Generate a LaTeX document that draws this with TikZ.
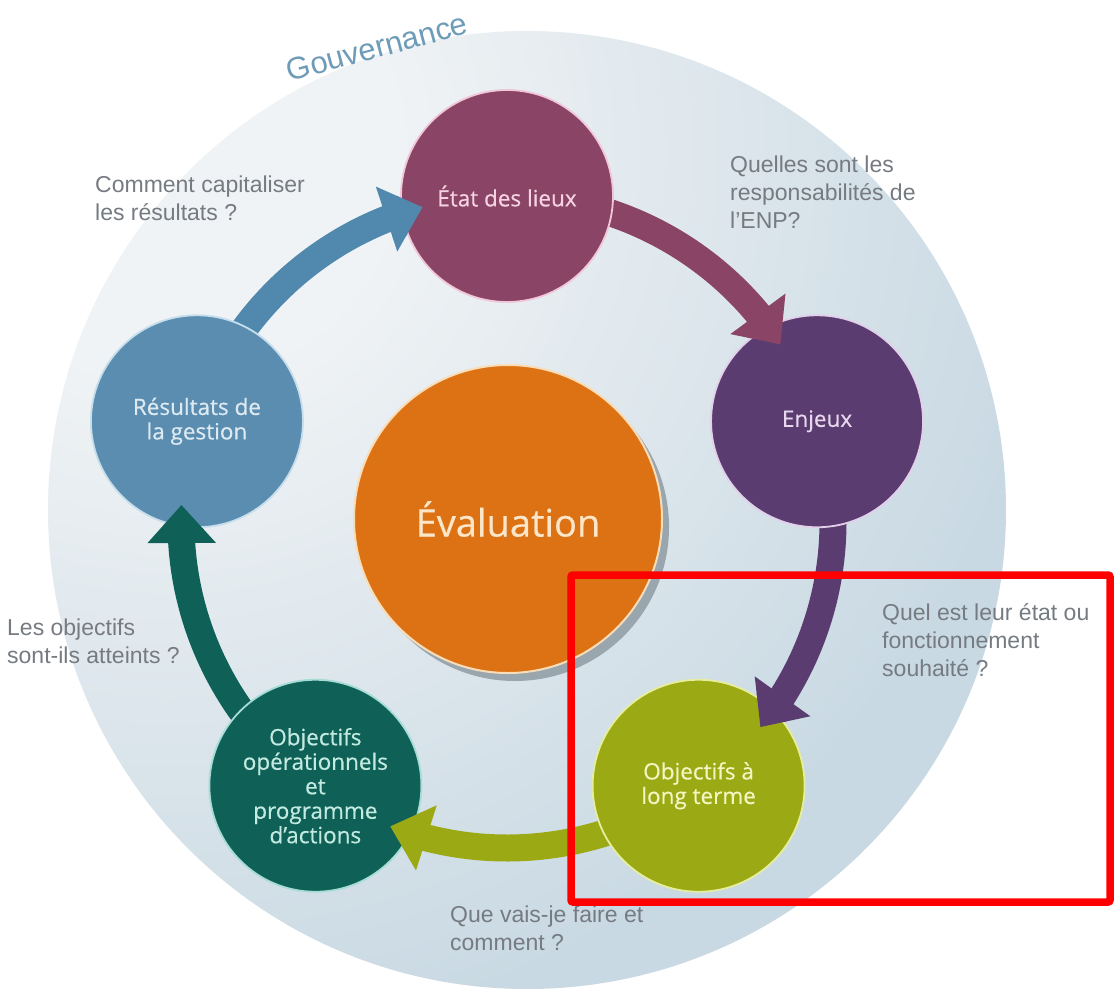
\documentclass[tikz,border=0pt]{standalone}
\usepackage{fontspec}
\setmainfont{Liberation Sans}
\newfontfamily\labfont[FakeBold=0.5]{Open Sans}
\usetikzlibrary{arrows.meta,bending,shadows}
\definecolor{cEtat}{HTML}{8A4466}
\definecolor{cEtatL}{HTML}{F0C6D8}
\definecolor{cEtatT}{HTML}{F6D3E2}
\definecolor{cEnj}{HTML}{5B3C70}
\definecolor{cEnjL}{HTML}{E2D0EA}
\definecolor{cEnjT}{HTML}{E6D8EE}
\definecolor{cOLT}{HTML}{9BAA14}
\definecolor{cOLTL}{HTML}{E6EE9E}
\definecolor{cOLTT}{HTML}{F3F5C2}
\definecolor{cOOP}{HTML}{0F6157}
\definecolor{cOOPL}{HTML}{A6DCD6}
\definecolor{cOOPT}{HTML}{C2EAE0}
\definecolor{cRes}{HTML}{5A8DAF}
\definecolor{cResL}{HTML}{C6DEEC}
\definecolor{cResT}{HTML}{DDEAF2}
\definecolor{cResA}{HTML}{5189AE}
\definecolor{cEval}{HTML}{DC7214}
\definecolor{cEvalL}{HTML}{F8DDB8}
\definecolor{cEvalT}{HTML}{FCE6CA}
\definecolor{shgrey}{HTML}{9AA6AE}
\definecolor{qgrey}{HTML}{767B82}
\definecolor{gouvc}{HTML}{6E9CB8}
\definecolor{bgB}{HTML}{C9D9E3}
\definecolor{bgW}{HTML}{F0F3F5}
\pgfdeclareradialshading{bgsh}{\pgfpoint{0bp}{0bp}}{color(0bp)=(bgW); color(4bp)=(bgW); color(16bp)=(bgB); color(50bp)=(bgB)}
\begin{document}
\begin{tikzpicture}[x=1pt,y=1pt,
  stage/.style={circle, minimum size=212pt, inner sep=0pt, align=center, line width=1.8pt,
    font=\labfont\fontsize{22.5}{24.5}\selectfont},
  question/.style={anchor=base west, align=left, inner sep=0pt, text=qgrey,
    font=\fontsize{23}{28}\selectfont},
  ringarrow/.style={line width=27pt, -{Triangle[length=38pt,width=66pt]}},
]
\useasboundingbox (0,0) rectangle (1115,-1001);
\fill[white] (0,0) rectangle (1115,-1001);
% governance disc
\coordinate (bgc) at (527,-510);
\begin{scope}
  \clip (bgc) circle[radius=479];
  \shade[shading=bgsh] (170,-150) circle[radius=1400];
\end{scope}
\node[rotate=15, inner sep=0pt, text=gouvc, font=\fontsize{31}{31}\selectfont] (gouv) at (377,-47) {Gouvernance};

\coordinate (c) at (507,-522);
\def\R{326}
% arrows, first pass (under the circles)
\draw[ringarrow, cEtat] ([shift={(90:\R)}]c) arc[start angle=90, end angle=33, radius=\R];
\draw[ringarrow, cEnj]  ([shift={(18:\R)}]c) arc[start angle=18, end angle=-39, radius=\R];
\draw[ringarrow, cOLT]  ([shift={(-54:\R)}]c) arc[start angle=-54, end angle=-111, radius=\R];
\draw[ringarrow, cOOP]  ([shift={(-126:\R)}]c) arc[start angle=-126, end angle=-183, radius=\R];
\draw[ringarrow, cResA] ([shift={(162:\R)}]c) arc[start angle=162, end angle=105, radius=\R];

% stages
\node[stage, fill=cEtat, draw=cEtatL, text=cEtatT] (etat) at ([shift={(90:\R)}]c) {État des lieux};
\node[stage, fill=cEnj, draw=cEnjL, text=cEnjT] (enjeux) at ([shift={(18:\R)}]c) {Enjeux};
\node[stage, fill=cOLT, draw=cOLTL, text=cOLTT] (olt) at ([shift={(-54:\R)}]c) {Objectifs à\\long terme};
\node[stage, fill=cOOP, draw=cOOPL, text=cOOPT] (oop) at ([shift={(-126:\R)}]c) {Objectifs\\opérationnels\\et\\programme\\d’actions};
\node[stage, fill=cRes, draw=cResL, text=cResT] (res) at ([shift={(162:\R)}]c) {Résultats de\\la gestion};

% arrow heads, second pass (over the target circles)
\begin{scope}
  \clip (enjeux.center) circle[radius=109];
  \draw[ringarrow, cEtat] ([shift={(90:\R)}]c) arc[start angle=90, end angle=33, radius=\R];
\end{scope}
\begin{scope}
  \clip (olt.center) circle[radius=109];
  \draw[ringarrow, cEnj] ([shift={(18:\R)}]c) arc[start angle=18, end angle=-39, radius=\R];
\end{scope}
\begin{scope}
  \clip (oop.center) circle[radius=109];
  \draw[ringarrow, cOLT] ([shift={(-54:\R)}]c) arc[start angle=-54, end angle=-111, radius=\R];
\end{scope}
\begin{scope}
  \clip (res.center) circle[radius=109];
  \draw[ringarrow, cOOP] ([shift={(-126:\R)}]c) arc[start angle=-126, end angle=-183, radius=\R];
\end{scope}
\begin{scope}
  \clip (etat.center) circle[radius=109];
  \draw[ringarrow, cResA] ([shift={(162:\R)}]c) arc[start angle=162, end angle=105, radius=\R];
\end{scope}

% evaluation
\node[circle, minimum size=308pt, inner sep=0pt, fill=cEval, draw=cEvalL, line width=2pt,
  drop shadow={shadow xshift=7pt, shadow yshift=-8pt, fill=shgrey, opacity=1},
  text=cEvalT, font=\labfont\fontsize{38}{40}\selectfont] (eval) at (508,-519) {Évaluation};

% questions (anchor = baseline of last line)
\node[question] (q1) at (95,-220) {Comment capitaliser\\les résultats ?};
\node[question] (q2) at (730,-228) {Quelles sont les\\responsabilités de\\l’ENP?};
\node[question] (q3) at (882,-676) {Quel est leur état ou\\fonctionnement\\souhaité ?};
\node[question] (q4) at (7,-663) {Les objectifs\\sont-ils atteints ?};
\node[question] (q5) at (450,-950) {Que vais-je faire et\\comment ?};

% highlight frame
\draw[red, line width=7.5pt, rounded corners=2pt] (571,-575) rectangle (1110,-902);
\end{tikzpicture}
\end{document}
